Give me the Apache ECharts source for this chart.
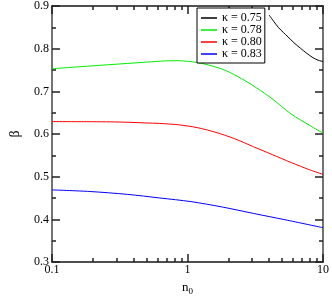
<!DOCTYPE html>
<html>
<head>
<meta charset="utf-8">
<script src="https://cdn.jsdelivr.net/npm/echarts@6/dist/echarts.min.js"></script>
<style>html,body{margin:0;padding:0;background:#fff}#c{width:332px;height:301px}</style>
</head>
<body>
<div id="c"></div>
<script>
var seriesNames = ['κ = 0.75', 'κ = 0.78', 'κ = 0.80', 'κ = 0.83'];
var seriesColors = ['#000000', '#00ee00', '#ff0000', '#0000ff'];

var n075 = [4.0, 4.35, 4.71, 5.1, 5.52, 6.1, 6.82, 7.6, 8.43, 9.2, 10];
var b075 = [0.879, 0.863, 0.849, 0.838, 0.8275, 0.814, 0.801, 0.789, 0.779, 0.773, 0.770];

var n078 = [0.1, 0.19, 0.36, 0.5, 0.68, 0.85, 1.0, 1.18, 1.5, 1.91, 2.5, 3.24, 4.2, 5.82, 8.0, 10];
var b078 = [0.753, 0.7594, 0.7654, 0.7685, 0.7713, 0.7718, 0.7705, 0.7676, 0.760, 0.749, 0.730, 0.708, 0.683, 0.647, 0.620, 0.602];

var n080 = [0.1, 0.29, 0.49, 0.625, 0.86, 1.18, 1.625, 2.23, 3.07, 4.23, 5.82, 8.0, 10];
var b080 = [0.6292, 0.6284, 0.6261, 0.6248, 0.6217, 0.615, 0.6038, 0.589, 0.5703, 0.5518, 0.5333, 0.516, 0.5056];

var n083 = [0.1, 0.19, 0.36, 0.625, 1.06, 1.81, 3.07, 5.23, 10];
var b083 = [0.4692, 0.4654, 0.4587, 0.4502, 0.4417, 0.429, 0.414, 0.3993, 0.3806];

var xMajor = [0.1, 1, 10];
var xMinor = [0.2, 0.3, 0.4, 0.5, 0.6, 0.7, 0.8, 0.9, 2, 3, 4, 5, 6, 7, 8, 9];
var xLabels = ['0.1', '1', '10'];

function pairs(xs, ys) { return xs.map(function (x, i) { return [x, ys[i]]; }); }

var font = 'Liberation Serif';
var axisColor = '#444';
var tickColor = '#222';
function xAxisDef(pos, minor, labels) {
  return {
    type: 'log', logBase: 10, min: 0.1, max: 10, position: pos,
    axisLine: { show: true, onZero: false, lineStyle: { color: axisColor, width: 1.5 } },
    axisTick: { show: true, inside: true, length: minor ? 4 : 8, customValues: minor ? xMinor : xMajor, lineStyle: { color: tickColor, width: 1.5 } },
    axisLabel: labels ? { show: true, customValues: xMajor, margin: 2, fontFamily: font, fontSize: 12, color: '#000',
      formatter: function (v) { var i = xMajor.indexOf(v); return i >= 0 ? xLabels[i] : ''; } } : { show: false },
    splitLine: { show: false },
    minorTick: { show: false }
  };
}
function yAxisDef(pos, labels) {
  return {
    type: 'value', min: 0.3, max: 0.9, interval: 0.1, position: pos,
    axisLine: { show: true, onZero: false, lineStyle: { color: axisColor, width: 1.5 } },
    axisTick: { show: true, inside: true, length: 8, lineStyle: { color: tickColor, width: 1.5 } },
    minorTick: { show: true, splitNumber: 2, length: 4, lineStyle: { color: tickColor, width: 1.5 } },
    axisLabel: labels ? { show: true, margin: 3, fontFamily: font, fontSize: 12, color: '#000', formatter: function (v) { return v.toFixed(1); } } : { show: false },
    splitLine: { show: false }
  };
}

var xAxes = [xAxisDef('bottom', false, true), xAxisDef('bottom', true, false), xAxisDef('top', false, false), xAxisDef('top', true, false)];
xAxes[0].name = '{n|n}{s|0}';
xAxes[0].nameLocation = 'middle';
xAxes[0].nameGap = 14;
xAxes[0].nameTextStyle = { rich: { n: { fontFamily: font, fontSize: 13, color: '#000' }, s: { fontFamily: font, fontSize: 9, color: '#000', verticalAlign: 'bottom', padding: [8, 0, 0, 0] } } };

var yAxes = [yAxisDef('left', true), yAxisDef('right', false)];
yAxes[0].name = 'β';
yAxes[0].nameLocation = 'middle';
yAxes[0].nameGap = 30;
yAxes[0].nameTextStyle = { fontFamily: font, fontSize: 14, color: '#000' };

var allData = [pairs(n075, b075), pairs(n078, b078), pairs(n080, b080), pairs(n083, b083)];
var series = seriesNames.map(function (name, i) {
  return { name: name, type: 'line', data: allData[i], xAxisIndex: 0, yAxisIndex: 0, smooth: 0.3,
    showSymbol: false, symbol: 'none', lineStyle: { color: seriesColors[i], width: 1 }, itemStyle: { color: seriesColors[i] } };
});

var chart = echarts.init(document.getElementById('c'), null, { renderer: 'canvas' });
chart.setOption({
  animation: false,
  backgroundColor: '#fff',
  grid: { left: 35, right: 8, top: 4, bottom: 28, containLabel: false },
  xAxis: xAxes,
  yAxis: yAxes,
  legend: {
    orient: 'vertical', left: 197, top: 8, padding: [4, 3, 3, 4], itemGap: 0,
    itemWidth: 16, itemHeight: 1.5, icon: 'rect',
    borderColor: '#000', borderWidth: 1, borderRadius: 0, backgroundColor: '#fff',
    textStyle: { fontFamily: font, fontSize: 12, color: '#000', lineHeight: 10.6 },
    data: seriesNames
  },
  series: series
});
</script>
</body>
</html>
